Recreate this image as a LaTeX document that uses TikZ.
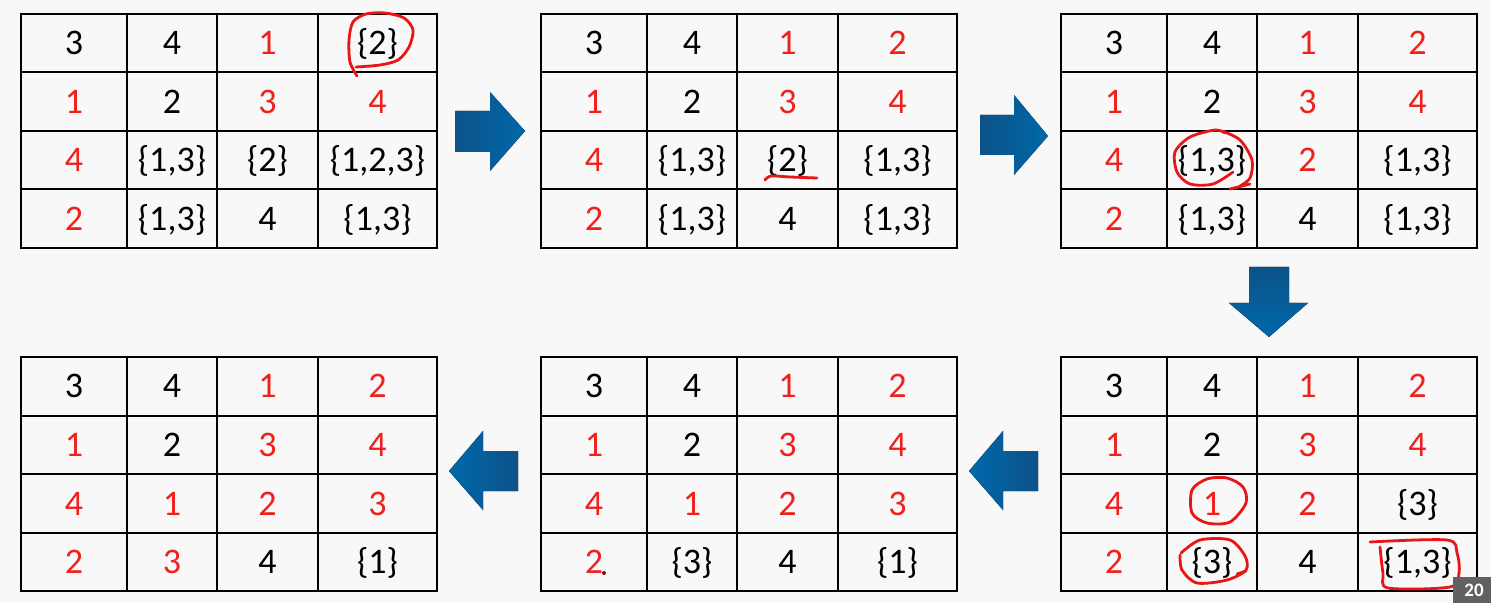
\documentclass[tikz,border=0pt]{standalone}
\usepackage{fontspec}
\setmainfont{Carlito}
\usepackage{tikz}
\usetikzlibrary{
  calc,
  positioning,
}
\definecolor{slidered}{RGB}{240, 32, 28}
\definecolor{penred}{RGB}{232, 22, 22}
\definecolor{arrowdark}{RGB}{12, 82, 136}
\definecolor{arrowlight}{RGB}{0, 104, 170}
\definecolor{pagegray}{RGB}{248, 248, 248}
\colorlet{red}{slidered}
\tikzstyle{cell} = [
  inner sep=0pt,
  anchor=base,
  font=\fontsize{18}{18}\selectfont,
]
\tikzstyle{gridline} = [line width=1pt, black]
\tikzstyle{pen} = [
  penred,
  line width=1.4pt,
  line cap=round,
  line join=round,
]
\tikzstyle{blockarrow} = [draw=none]

% one 4x4 board: name, left, top, entries (text/colour)
\newcommand{\board}[4]{%
  \draw [gridline] (#2, #3) rectangle ++(416, 234);
  \foreach \gx in {106, 196, 297} {
    \draw [gridline] (#2 + \gx, #3) -- ++(0, 234);
  }
  \foreach \gy in {58.5, 117, 175.5} {
    \draw [gridline] (#2, #3 + \gy) -- ++(416, 0);
  }
  \foreach \txt/\clr [count=\k from 0] in {#4} {
    \pgfmathtruncatemacro{\col}{mod(\k, 4)}
    \pgfmathtruncatemacro{\row}{floor(\k / 4)}
    \pgfmathsetmacro{\cx}{{53, 151, 246.5, 356.5}[\col]}
    \node [cell, text=\clr] (#1-\row-\col) at (#2 + \cx, #3 + 41 + 58.5 * \row) {\txt};
  }%
}

\begin{document}
\begin{tikzpicture}[x=0.5pt, y=-0.5pt]

        \fill [pagegray] (0,0) rectangle (1491,603);

        \board{a}{21}{14}{3/black, 4/black, 1/red, {\{2\}}/black,
                          1/red, 2/black, 3/red, 4/red,
                          4/red, {\{1,3\}}/black, {\{2\}}/black, {\{1,2,3\}}/black,
                          2/red, {\{1,3\}}/black, 4/black, {\{1,3\}}/black}

        \board{b}{541}{14}{3/black, 4/black, 1/red, 2/red,
                           1/red, 2/black, 3/red, 4/red,
                           4/red, {\{1,3\}}/black, {\{2\}}/black, {\{1,3\}}/black,
                           2/red, {\{1,3\}}/black, 4/black, {\{1,3\}}/black}

        \board{c}{1061}{14}{3/black, 4/black, 1/red, 2/red,
                            1/red, 2/black, 3/red, 4/red,
                            4/red, {\{1,3\}}/black, 2/red, {\{1,3\}}/black,
                            2/red, {\{1,3\}}/black, 4/black, {\{1,3\}}/black}

        \board{d}{1061}{357}{3/black, 4/black, 1/red, 2/red,
                             1/red, 2/black, 3/red, 4/red,
                             4/red, 1/red, 2/red, {\{3\}}/black,
                             2/red, {\{3\}}/black, 4/black, {\{1,3\}}/black}

        \board{e}{541}{357}{3/black, 4/black, 1/red, 2/red,
                            1/red, 2/black, 3/red, 4/red,
                            4/red, 1/red, 2/red, 3/red,
                            2/red, {\{3\}}/black, 4/black, {\{1\}}/black}

        \board{f}{21}{357}{3/black, 4/black, 1/red, 2/red,
                           1/red, 2/black, 3/red, 4/red,
                           4/red, 1/red, 2/red, 3/red,
                           2/red, 3/red, 4/black, {\{1\}}/black}

        \fill [blockarrow, left color=arrowdark, right color=arrowlight]
              (455,111) -- (490,111) -- (490,92) -- (525,131) -- (490,171) -- (490,152) -- (455,152) -- cycle;

        \fill [blockarrow, left color=arrowdark, right color=arrowlight]
              (980,115) -- (1014,115) -- (1014,95) -- (1048,136) -- (1014,175) -- (1014,155) -- (980,155) -- cycle;

        \fill [blockarrow, top color=arrowdark, bottom color=arrowlight]
              (1249,267) -- (1289,267) -- (1289,303) -- (1308,303) -- (1269,337) -- (1229,303) -- (1249,303) -- cycle;

        \fill [blockarrow, left color=arrowlight, right color=arrowdark]
              (1038,451) -- (1003,451) -- (1003,431) -- (969,471) -- (1003,510) -- (1003,491) -- (1038,491) -- cycle;

        \fill [blockarrow, left color=arrowlight, right color=arrowdark]
              (518,451) -- (483,451) -- (483,431) -- (449,471) -- (483,510) -- (483,491) -- (518,491) -- cycle;

        \draw [pen] plot [smooth] coordinates {(357,76) (350,62) (349,40) (353,22) (366,14) (385,13)
              (404,18) (413,30) (409,47) (398,60) (380,65) (356,67)};

        \draw [pen] plot [smooth] coordinates {(765,180) (771,176) (790,177) (817,178)};

        \draw [pen] plot [smooth] coordinates {(1225,133) (1215,130) (1190,137) (1175,152) (1177,172)
              (1190,184) (1213,184) (1233,172)};
        \draw [pen] plot [smooth] coordinates {(1222,131) (1240,140) (1252,160) (1250,178) (1240,186)};
        \draw [pen] (1230,189) -- (1250,184);

        \draw [pen] plot [smooth cycle] coordinates {(1207,479) (1192,490) (1192,513) (1207,523)
              (1230,522) (1246,503) (1243,487) (1227,478)};

        \draw [pen] plot [smooth] coordinates {(1181,553) (1200,540) (1230,540) (1245,556) (1246,570)
              (1227,580) (1197,583) (1182,570) (1180,555)};
        \draw [pen] (1237,574) -- (1246,571);

        \draw [pen] plot [smooth] coordinates {(1370,542) (1447,540) (1457,553) (1459,573) (1450,587)
              (1388,588) (1383,573) (1380,547)};

        \fill [penred!60!black] (604,573) circle (2);

        \fill [black!62] (1453,577) rectangle (1491,603);
        \node [anchor=base west, inner sep=0pt, text=white, font=\fontsize{9.5}{9.5}\selectfont\bfseries]
              (stamp) at (1464,596) {20};

\end{tikzpicture}
\end{document}
